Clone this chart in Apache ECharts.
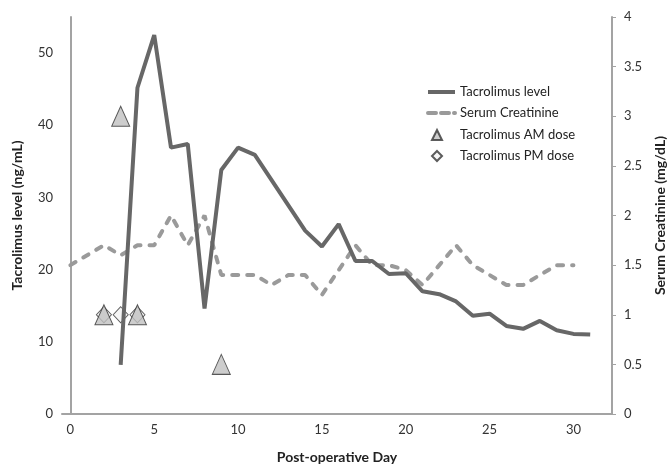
<!DOCTYPE html>
<html>
<head>
<meta charset="utf-8">
<script src="https://cdn.jsdelivr.net/npm/echarts@6/dist/echarts.min.js"></script>
<style>
	html, body { margin: 0; padding: 0; background: #fff; }
	#chart { width: 671px; height: 464px; }
</style>
</head>
<body>
<div id="chart"></div>
<script>
	'use strict';

	// Tacrolimus level (ng/mL), left axis
	var tacroDays = [3, 4, 5, 6, 7, 8, 9, 10, 11, 12, 13, 14, 15, 16, 17, 18, 19, 20, 21, 22, 23, 24, 25, 26, 27, 28, 29, 30, 31];
	var tacroLevel = [6.8, 45.2, 52.5, 36.9, 37.4, 14.6, 33.8, 36.9, 35.9, 32.4, 28.9, 25.4, 23.2, 26.3, 21.2, 21.2, 19.4, 19.5, 17.0, 16.6, 15.6, 13.6, 13.9, 12.2, 11.8, 12.9, 11.6, 11.1, 11.0];

	// Serum creatinine (mg/dL), right axis
	var creatDays = [0, 1, 2, 3, 4, 5, 6, 7, 8, 9, 10, 11, 12, 13, 14, 15, 16, 17, 18, 19, 20, 21, 22, 23, 24, 25, 26, 27, 28, 29, 30];
	var creatValue = [1.5, 1.6, 1.7, 1.6, 1.7, 1.7, 2.0, 1.7, 2.0, 1.4, 1.4, 1.4, 1.3, 1.4, 1.4, 1.2, 1.45, 1.7, 1.5, 1.5, 1.45, 1.3, 1.5, 1.7, 1.5, 1.4, 1.3, 1.3, 1.4, 1.5, 1.5];

	// dose markers, plotted on the right axis
	var amDoseDays = [2, 3, 4, 9];
	var amDoseValue = [1, 3, 1, 0.5];
	var pmDoseDays = [2, 3, 4];
	var pmDoseValue = [1, 1, 1];

	var xTicks = [0, 5, 10, 15, 20, 25, 30];
	var leftTicks = [0, 10, 20, 30, 40, 50];

	var font = 'Lato, "Open Sans", sans-serif';
	var textColor = '#333';
	var axisColor = '#a3a3a3';
	var hidden = 'rgba(0,0,0,0)';
	var tacroColor = '#676767';
	var creatColor = '#9a9a9a';

	function pairs(xs, ys) {
		return xs.map(function(x, i) { return [x, ys[i]]; });
	}

	var chart = echarts.init(document.getElementById('chart'), null, { renderer: 'canvas' });

	var legendText = { fontFamily: font, fontSize: 13, color: '#222', lineHeight: 16 };

	var option = {
		backgroundColor: '#fff',
		animation: false,
		textStyle: { fontFamily: font },
		grid: { left: 62, right: 59, top: 17, bottom: 50, containLabel: false, outerBoundsMode: 'none' },
		legend: [
			{
				orient: 'vertical',
				left: 421,
				top: 79,
				itemWidth: 27,
				itemHeight: 14,
				itemGap: 5,
				textStyle: legendText,
				data: [
					{
						name: 'Tacrolimus level',
						itemStyle: { color: hidden, borderColor: hidden, borderWidth: 0 },
						lineStyle: { color: tacroColor, width: 4 }
					},
					{
						name: 'Serum Creatinine',
						itemStyle: { color: hidden, borderColor: hidden, borderWidth: 0 },
						lineStyle: { color: creatColor, width: 4, type: [8, 5] }
					}
				]
			},
			{
				orient: 'vertical',
				left: 426,
				top: 122,
				itemWidth: 10,
				itemHeight: 10,
				itemGap: 5,
				textStyle: {
					fontFamily: font, fontSize: 13, color: '#222', lineHeight: 16,
					padding: [0, 0, 0, 13]
				},
				data: [
					{ name: 'Tacrolimus AM dose', icon: 'triangle' },
					{ name: 'Tacrolimus PM dose', icon: 'diamond' }
				]
			}
		],
		xAxis: {
			type: 'value',
			min: -0.5,
			max: 32.3,
			splitNumber: 6,
			name: 'Post-operative Day',
			nameLocation: 'middle',
			nameGap: 36,
			nameTextStyle: { fontFamily: font, fontSize: 14, fontWeight: 'bold', color: '#222' },
			axisLine: { lineStyle: { color: axisColor, width: 2 } },
			axisTick: { show: false },
			splitLine: { show: false },
			axisLabel: {
				margin: 9,
				fontSize: 13,
				color: textColor,
				formatter: function(v) {
					return xTicks.indexOf(v) >= 0 ? String(v) : '';
				}
			}
		},
		yAxis: [
			{
				type: 'value',
				min: 0,
				max: 55,
				interval: 10,
				position: 'left',
				name: 'Tacrolimus level (ng/mL)',
				nameLocation: 'middle',
				nameRotate: 90,
				nameGap: 38,
				nameTextStyle: { fontFamily: font, fontSize: 14, fontWeight: 'bold', color: '#222' },
				axisLine: { show: true, lineStyle: { color: axisColor, width: 2 } },
				axisTick: { show: false },
				splitLine: { show: false },
				axisLabel: {
					margin: 9,
					fontSize: 13,
					color: textColor,
					formatter: function(v) {
						return leftTicks.indexOf(v) >= 0 ? String(v) : '';
					}
				}
			},
			{
				type: 'value',
				min: 0,
				max: 4,
				interval: 0.5,
				position: 'right',
				name: 'Serum Creatinine (mg/dL)',
				nameLocation: 'middle',
				nameRotate: 90,
				nameGap: 41,
				nameTextStyle: { fontFamily: font, fontSize: 14, fontWeight: 'bold', color: '#222' },
				axisLine: { show: true, lineStyle: { color: axisColor, width: 2 } },
				axisTick: { show: true, inside: false, length: 4, lineStyle: { color: axisColor, width: 1 } },
				splitLine: { show: false },
				axisLabel: { margin: 12, fontSize: 13, color: textColor }
			}
		],
		series: [
			{
				name: 'Tacrolimus level',
				type: 'line',
				yAxisIndex: 0,
				z: 4,
				symbol: 'none',
				color: tacroColor,
				lineStyle: { color: tacroColor, width: 4 },
				data: pairs(tacroDays, tacroLevel)
			},
			{
				name: 'Serum Creatinine',
				type: 'line',
				yAxisIndex: 1,
				z: 3,
				symbol: 'none',
				color: creatColor,
				lineStyle: { color: creatColor, width: 4, type: [6, 9], cap: 'round' },
				data: pairs(creatDays, creatValue)
			},
			{
				name: 'Tacrolimus PM dose',
				type: 'scatter',
				yAxisIndex: 1,
				z: 1,
				symbol: 'diamond',
				symbolSize: [15, 16],
				itemStyle: { color: '#f4f4f4', borderColor: '#333', borderWidth: 1 },
				data: pairs(pmDoseDays, pmDoseValue)
			},
			{
				name: 'Tacrolimus AM dose',
				type: 'scatter',
				yAxisIndex: 1,
				z: 2,
				symbol: 'triangle',
				symbolSize: [18, 20],
				itemStyle: { color: '#c0c0c0', borderColor: '#333', borderWidth: 1 },
				data: pairs(amDoseDays, amDoseValue)
			}
		]
	};

	chart.setOption(option);
</script>
</body>
</html>
